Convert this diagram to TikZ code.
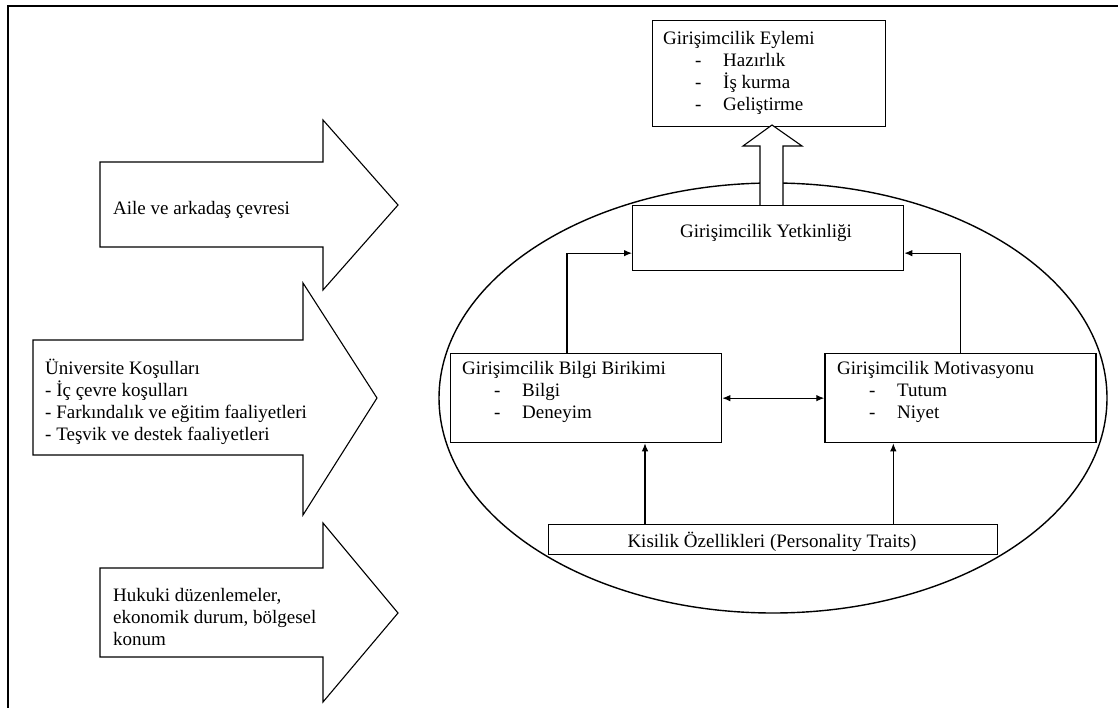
\documentclass[tikz,border=0pt]{standalone}
\usepackage{fontspec}
\setmainfont{Liberation Serif}
\usetikzlibrary{positioning,arrows.meta}
\tikzset{box node/.style={rectangle,draw,fill=white,line width=1.3pt,inner sep=0pt},
         txt node/.style={anchor=base west,align=left,inner sep=0pt,font=\fontsize{19}{22}\selectfont},
         big arrow/.style={draw,fill=white,line width=1.1pt,line join=miter},
         link/.style={line width=1.1pt,->},
            }

\begin{document}
\begin{tikzpicture}[x=1pt,y=-1pt,>={Latex[length=8pt,width=6.5pt]}]
    \useasboundingbox (0,0) rectangle (1118,708);
    \draw[line width=2pt] (8,708) -- (8,6) -- (1118,6);

    \draw[line width=1.4pt] (773,398) ellipse [x radius=334pt, y radius=215pt];

    \node[box node,minimum width=233pt,minimum height=106pt,anchor=north west] (eylem) at (652,20) {};
    \node[box node,minimum width=271pt,minimum height=65pt,anchor=north west] (yetkin) at (632,205) {};
    \node[box node,minimum width=271pt,minimum height=89pt,anchor=north west] (bilgi) at (450,353) {};
    \node[box node,minimum width=271pt,minimum height=89pt] (motiv) [right=102pt of bilgi] {};
    \node[box node,minimum width=449pt,minimum height=30pt,anchor=north west] (kisilik) at (548,524) {};

    \draw[big arrow] (760,205) -- (760,146) -- (743,146) -- (772,125) -- (802,146) -- (783,146) -- (783,205);

    \draw[big arrow] (100,162) -- (323,162) -- (323,120) -- (398,205) -- (323,290) -- (323,247) -- (100,247) -- cycle;
    \draw[big arrow] (33,340) -- (303,340) -- (303,283) -- (377,398) -- (303,515) -- (303,455) -- (33,455) -- cycle;
    \draw[big arrow] (100,568) -- (323,568) -- (323,523) -- (398,613) -- (323,702) -- (323,657) -- (100,657) -- cycle;

    % multi-line texts: base is the last line
    \node[txt node] (eylemtxt) at (663,111) {Girişimcilik Eylemi\\
      \hspace*{32pt}\makebox[28pt][l]{-}Hazırlık\\
      \hspace*{32pt}\makebox[28pt][l]{-}İş kurma\\
      \hspace*{32pt}\makebox[28pt][l]{-}Geliştirme};
    \node[txt node,anchor=base] (yetkintxt) at (766,238) {Girişimcilik Yetkinliği};
    \node[txt node] (bilgitxt) at (462,418) {Girişimcilik Bilgi Birikimi\\
      \hspace*{32pt}\makebox[28pt][l]{-}Bilgi\\
      \hspace*{32pt}\makebox[28pt][l]{-}Deneyim};
    \node[txt node] (motivtxt) at (837,418) {Girişimcilik Motivasyonu\\
      \hspace*{32pt}\makebox[28pt][l]{-}Tutum\\
      \hspace*{32pt}\makebox[28pt][l]{-}Niyet};
    \node[txt node,anchor=base] (kisiliktxt) at (772,547) {Kisilik Özellikleri (Personality Traits)};

    \node[txt node] (ailetxt) at (113,215) {Aile ve arkadaş çevresi};
    \node[txt node] (univtxt) at (45,440) {Üniversite Koşulları\\- İç çevre koşulları\\
      - Farkındalık ve eğitim faaliyetleri\\- Teşvik ve destek faaliyetleri};
    \node[txt node] (hukuktxt) at (113,645) {Hukuki düzenlemeler,\\ekonomik durum, bölgesel\\konum};

    \coordinate (bilgiin) at ([xshift=195pt]bilgi.south west);
    \coordinate (motivin) at ([xshift=69pt]motiv.south west);

    \draw[link] ([xshift=117pt]bilgi.north west) |- ([yshift=-15pt]yetkin.west);
    \draw[link] ([xshift=-136pt]motiv.north east) |- ([yshift=-15pt]yetkin.east);
    \draw[link,<->] (bilgi.east) -- (motiv.west);
    \draw[link] (kisilik.north -| bilgiin) -- (bilgiin);
    \draw[link] (kisilik.north -| motivin) -- (motivin);
\end{tikzpicture}
\end{document}
